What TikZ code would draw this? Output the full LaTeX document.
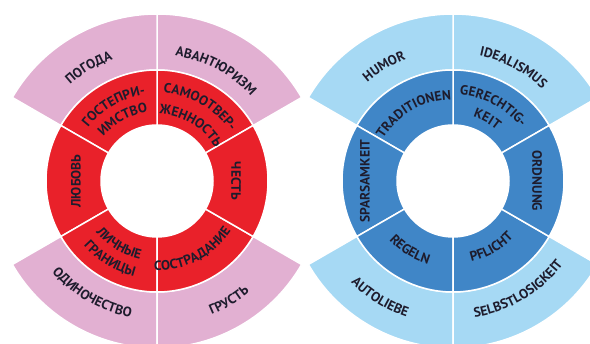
\documentclass[tikz,border=0pt]{standalone}
\usepackage{fontspec}
\setmainfont{PT Sans}
\usetikzlibrary{decorations.text}
\definecolor{redseg}{HTML}{E9212A}
\definecolor{pinkseg}{HTML}{E2B0D2}
\definecolor{dblue}{HTML}{4086C7}
\definecolor{lblue}{HTML}{A6D9F4}
\definecolor{txt}{HTML}{1E1C2D}
\newcommand\lblfont{\fontsize{13.5pt}{16pt}\selectfont\bfseries\color{txt}}
% annular sector: center, r inner, r outer, angle 1, angle 2, colour
\newcommand\ringseg[6]{%
  \filldraw[fill=#6, draw=white, line width=1.5pt]
    ([shift={(#4:#3pt)}]#1) arc[start angle=#4, end angle=#5, radius=#3pt]
    -- ([shift={(#5:#2pt)}]#1) arc[start angle=#5, end angle=#4, radius=#2pt] -- cycle;}
% text on a clockwise arc (top), baseline radius, mid angle
\newcommand\toplabel[4]{%
  \path[decorate, decoration={text along path, text align=center, text={|\lblfont|#4}}]
    ([shift={({#3+70}:#2pt)}]#1) arc[start angle={#3+70}, end angle={#3-70}, radius=#2pt];}
% text on a counter-clockwise arc (bottom)
\newcommand\botlabel[4]{%
  \path[decorate, decoration={text along path, text align=center, text={|\lblfont|#4}}]
    ([shift={({#3-70}:#2pt)}]#1) arc[start angle={#3-70}, end angle={#3+70}, radius=#2pt];}
\begin{document}
\begin{tikzpicture}[x=1pt,y=1pt,
  lbl/.style={font=\lblfont, text=txt, inner sep=0pt}]
\useasboundingbox (0,0) rectangle (590,344);
\coordinate (L) at (157,163);
\coordinate (R) at (453,163);
% ---------- left ring ----------
\ringseg{L}{111}{167}{30}{90}{pinkseg}
\ringseg{L}{111}{167}{90}{150}{pinkseg}
\ringseg{L}{111}{167}{210}{270}{pinkseg}
\ringseg{L}{111}{167}{270}{330}{pinkseg}
\ringseg{L}{56}{111}{30}{90}{redseg}
\ringseg{L}{56}{111}{90}{150}{redseg}
\ringseg{L}{56}{111}{150}{210}{redseg}
\ringseg{L}{56}{111}{210}{270}{redseg}
\ringseg{L}{56}{111}{270}{330}{redseg}
\ringseg{L}{56}{111}{330}{390}{redseg}
% ---------- right ring ----------
\ringseg{R}{111}{167}{30}{90}{lblue}
\ringseg{R}{111}{167}{90}{150}{lblue}
\ringseg{R}{111}{167}{210}{270}{lblue}
\ringseg{R}{111}{167}{270}{330}{lblue}
\ringseg{R}{56}{111}{30}{90}{dblue}
\ringseg{R}{56}{111}{90}{150}{dblue}
\ringseg{R}{56}{111}{150}{210}{dblue}
\ringseg{R}{56}{111}{210}{270}{dblue}
\ringseg{R}{56}{111}{270}{330}{dblue}
\ringseg{R}{56}{111}{330}{390}{dblue}
% ---------- left labels ----------
\toplabel{L}{87}{120}{ГОСТЕПРИ-}
\toplabel{L}{69.5}{119}{ИМСТВО}
\toplabel{L}{88.5}{60}{САМООТВЕР-}
\toplabel{L}{67}{59}{ЖЕННОСТЬ}
\node[lbl, rotate=-90] (chest) at ([shift={(0:79pt)}]L) {ЧЕСТЬ};
\botlabel{L}{89.5}{297}{СОСТРАДАНИЕ}
\botlabel{L}{80}{239}{ЛИЧНЫЕ}
\botlabel{L}{98}{239}{ГРАНИЦЫ}
\node[lbl, rotate=90] (lyubov) at ([shift={(180:81pt)}]L) {ЛЮБОВЬ};
\toplabel{L}{129.5}{121}{ПОГОДА}
\toplabel{L}{126.5}{62}{АВАНТЮРИЗМ}
\botlabel{L}{139}{240}{ОДИНОЧЕСТВО}
\botlabel{L}{144.5}{301}{ГРУСТЬ}
% ---------- right labels ----------
\toplabel{R}{81.5}{120}{TRADITIONEN}
\toplabel{R}{86.5}{62}{GERECHTIG-}
\toplabel{R}{67}{61}{KEIT}
\node[lbl, rotate=-90] (ordnung) at ([shift={(0:84pt)}]R) {ORDNUNG};
\botlabel{R}{82.5}{300}{PFLICHT}
\botlabel{R}{87}{238}{REGELN}
\node[lbl, rotate=90] (sparsamkeit) at ([shift={(180:88pt)}]R) {SPARSAMKEIT};
\toplabel{R}{130.5}{121}{HUMOR}
\toplabel{R}{128}{62}{IDEALISMUS}
\botlabel{R}{144}{238}{AUTOLIEBE}
\botlabel{R}{138}{301}{SELBSTLOSIGKEIT}
\end{tikzpicture}
\end{document}
